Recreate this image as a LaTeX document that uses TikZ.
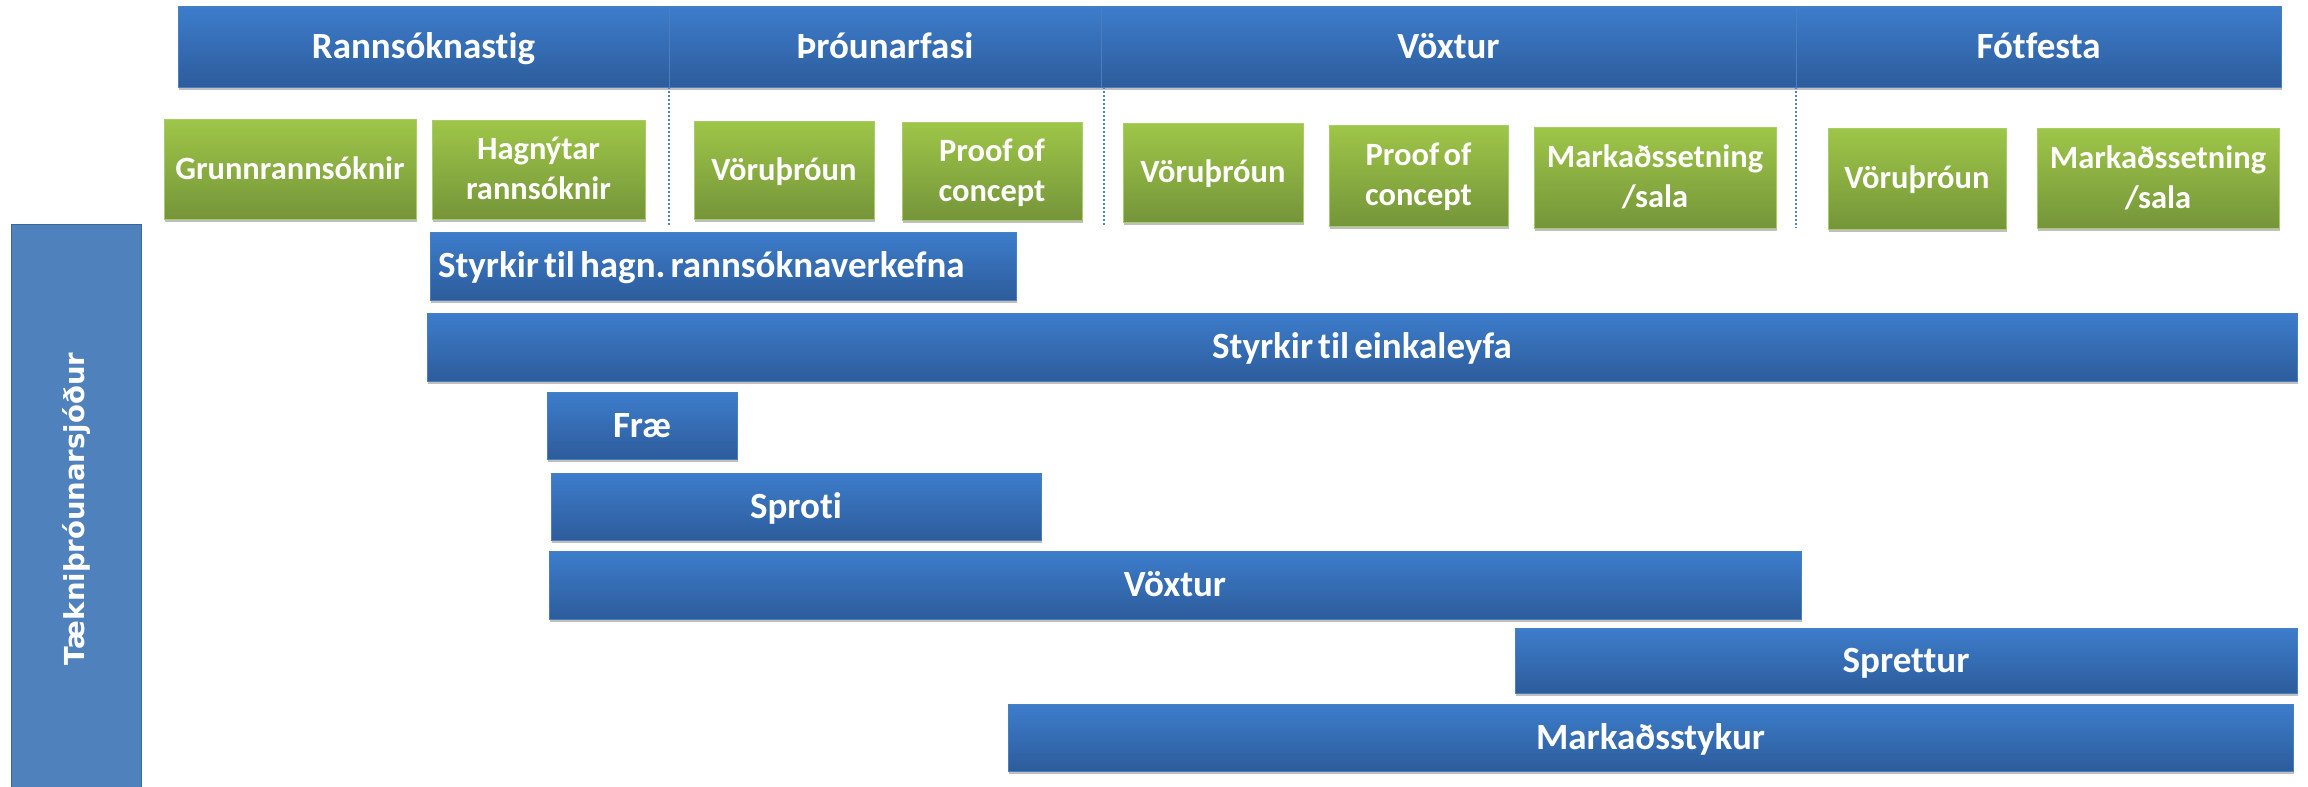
\documentclass[tikz,border=0pt]{standalone}
\usepackage{fontspec}
\setmainfont{Carlito}[Ligatures=NoCommon, WordSpace=0.6]
\newfontfamily\vertfont{DejaVu Sans}
\usetikzlibrary{shadows}
\frenchspacing
\definecolor{barTop}{HTML}{3D7DCC}
\definecolor{barBot}{HTML}{2D5C9B}
\definecolor{barEdge}{HTML}{4A7FBF}
\definecolor{grTop}{HTML}{9EC648}
\definecolor{grBot}{HTML}{75953A}
\definecolor{grEdge}{HTML}{A9CB6B}
\definecolor{sideBlue}{HTML}{4F81BD}
\definecolor{sideEdge}{HTML}{3B6699}
\definecolor{dotBlue}{HTML}{4F81BD}
\tikzset{
  boxsize/.style 2 args={minimum width=#1pt, minimum height=#2pt},
  softshadow/.style={drop shadow={shadow xshift=1pt, shadow yshift=-3pt, opacity=0.25, fill=black}},
  bluebox/.style={softshadow, top color=barTop, bottom color=barBot, draw=barEdge, line width=0.8pt,
    text=white, font=\bfseries\fontsize{37}{44}\selectfont\frenchspacing, inner sep=0pt, outer sep=0pt,
    anchor=north west, text height=23.3pt, text depth=0pt},
  greenbox/.style={softshadow, top color=grTop, bottom color=grBot, draw=grEdge, line width=0.8pt,
    text=white, font=\bfseries\fontsize{32.5}{40}\selectfont, inner sep=0pt, outer sep=0pt,
    anchor=north west, align=center, text height=20.5pt, text depth=0pt},
  twoline/.style={text height=60.5pt, text depth=0pt},
  sidebar/.style={fill=sideBlue, draw=sideEdge, line width=1pt, text=white,
    font=\vertfont\bfseries\fontsize{27.5}{33}\selectfont, inner sep=0pt, outer sep=0pt},
  divline/.style={draw=dotBlue, line width=2pt, dash pattern=on 2pt off 2pt}
}
\begin{document}
\begin{tikzpicture}[x=1pt,y=-1pt]
\useasboundingbox (0,0) rectangle (2308,787);
% header
\node[bluebox, boxsize={491}{81}] (h1) at (178,6) {Rannsóknastig};
\node[bluebox, boxsize={432}{81}] (h2) at (669,6) {Þróunarfasi};
\node[bluebox, boxsize={695}{81}] (h3) at (1101,6) {Vöxtur};
\node[bluebox, boxsize={485}{81}] (h4) at (1796,6) {Fótfesta};
% dividers
\coordinate (d1) at (669,225);
\coordinate (d2) at (1104,225);
\coordinate (d3) at (1796,228);
\draw[divline] (h1.south east) -- (d1);
\draw[divline] (h2.south east) ++(3,0) -- (d2);
\draw[divline] (h3.south east) -- (d3);
% green boxes
\node[greenbox, boxsize={252}{100}] (g1) at (164,119) {Grunnrannsóknir};
\node[greenbox, twoline, boxsize={213}{99}] (g2) at (432,120) {Hagnýtar\\rannsóknir};
\node[greenbox, boxsize={180}{98}] (g3) at (694,121) {Vöruþróun};
\node[greenbox, twoline, boxsize={180}{98}] (g4) at (902,122) {Proof of\\concept};
\node[greenbox, boxsize={180}{99}] (g5) at (1123,123) {Vöruþróun};
\node[greenbox, twoline, boxsize={179}{101}] (g6) at (1329,125) {Proof of\\concept};
\node[greenbox, twoline, boxsize={242}{101}] (g7) at (1534,127) {Markaðssetning\\/sala};
\node[greenbox, boxsize={178}{101}] (g8) at (1828,128) {Vöruþróun};
\node[greenbox, twoline, boxsize={242}{100}] (g9) at (2037,128) {Markaðssetning\\/sala};
% side bar
\node[sidebar, rotate=90, boxsize={570}{130}] (fund) at (76,509) {Tækniþróunarsjóður};
% funding bars
\node[bluebox, boxsize={586}{68}] (b1) at (430,232) {\makebox[570pt][l]{Styrkir til hagn. rannsóknaverkefna}};
\node[bluebox, boxsize={1870}{68}] (b2) at (427,313) {Styrkir til einkaleyfa};
\node[bluebox, boxsize={190}{67}] (b3) at (547,392) {Fræ};
\node[bluebox, boxsize={490}{67}] (b4) at (551,473) {Sproti};
\node[bluebox, boxsize={1252}{68}] (b5) at (549,551) {Vöxtur};
\node[bluebox, boxsize={782}{65}] (b6) at (1515,628) {Sprettur};
\node[bluebox, boxsize={1285}{67}] (b7) at (1008,704) {Markaðsstykur};
\end{tikzpicture}
\end{document}
